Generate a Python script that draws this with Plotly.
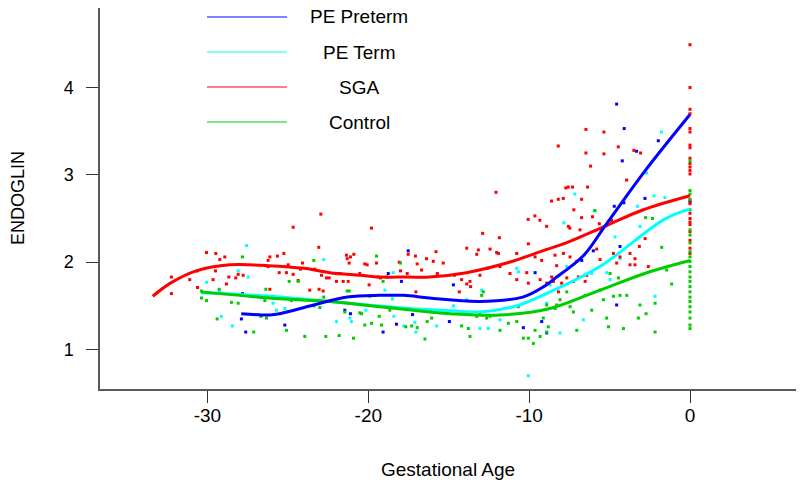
import plotly.graph_objects as go

# ---------------- data ----------------
sga_pts_x = [-24.67,-19.80,-30.06,-29.48,-29.23,-28.92,-32.24,-32.24,-31.10,-30.62,-29.50,-29.65,-28.67,-28.24,-28.09,-27.78,-28.82,-30.62,
             -26.23,-26.12,-25.65,-25.25,-26.23,-25.54,-25.09,-24.98,-24.67,-24.36,-24.22,-24.09,-23.33,-23.08,-22.91,-22.60,-22.43,-21.98,
             -21.77,-21.56,-21.25,-21.36,-21.31,-21.19,-21.11,-20.90,-20.53,-20.22,-20.07,-19.95,-19.49,-19.39,-19.24,-18.87,-18.08,-18.00,
             -17.52,-17.58,-17.07,-16.96,-16.69,-16.38,-17.04,-23.64,-23.06,-22.81,-26.12,-22.95,
             -12.89,-11.85,-10.05,-8.91,-7.56,-6.84,-13.88,-13.26,-13.16,-12.43,-12.02,-11.91,-10.77,-9.63,-9.22,-8.39,-7.87,-7.46,-7.04,-8.29,
             -15.96,-15.34,-15.79,-15.71,-14.65,-14.20,-13.88,-13.68,-14.34,-13.64,-13.06,-12.60,-11.81,-11.19,-10.77,-10.15,-10.05,-9.32,
             -8.91,-8.60,-8.49,-8.18,-7.98,-7.66,-7.25,-6.94,-6.52,-6.42,-5.59,-4.76,-4.35,-3.73,-3.42,-3.42,-3.15,-2.79,-2.59,-3.73,-4.56,-5.80,-12.06,
             -6.47,-5.35,-8.19,-6.47,-5.35,-4.46,-6.18,-3.49,-3.07,-3.94,-7.72,-7.57,-7.30,-6.37,-8.61,-8.19,-7.88,-6.74,-7.22,-10.06,-9.64,-9.33,
             -6.74,-6.06,-5.64,-4.88,-7.47,
             0,0,0,0,0,0,0,0,0,0,0,0,0,0,0,0,0,0,0,0,0,0,0]
sga_pts_y = [2.40,2.39,2.11,2.10,2.03,2.06,1.83,1.64,1.80,1.90,1.90,1.80,1.83,1.82,1.86,1.85,1.75,1.71,
             2.02,2.06,2.07,2.10,1.95,1.88,1.88,1.97,1.86,1.79,1.92,1.99,1.92,2.17,1.85,1.82,1.82,1.78,
             1.87,1.78,1.78,2.08,2.04,1.99,2.06,2.09,1.87,1.98,1.97,1.74,1.99,1.83,1.82,1.83,2.00,1.90,
             2.09,1.87,2.07,1.98,1.91,2.04,1.66,1.68,1.69,1.67,1.69,2.55,
             2.33,2.28,2.21,2.41,2.41,2.37,2.16,2.09,2.14,2.15,2.11,2.10,2.10,2.06,2.02,2.08,2.10,2.06,2.01,1.96,
             2.01,1.99,2.12,1.87,1.85,1.80,1.75,1.78,1.66,1.72,1.85,1.93,1.95,1.87,1.80,1.88,1.76,1.80,
             1.76,1.83,1.78,1.66,1.76,1.82,1.78,1.83,1.78,1.85,2.03,2.10,2.06,2.10,1.97,2.04,2.18,2.27,1.95,1.97,1.99,2.15,2.80,
             3.52,3.49,3.33,3.25,3.24,3.32,3.10,3.28,3.25,2.94,2.85,2.86,2.86,2.86,2.70,2.72,2.73,2.72,2.60,2.49,2.53,2.48,
             2.51,2.52,2.44,2.48,2.39,
             4.49,4.00,3.75,3.70,3.53,3.49,3.34,3.31,3.19,3.13,3.09,3.05,3.01,2.71,2.67,2.56,2.50,2.46,2.43,2.35,2.25,2.16,2.10]

ctrl_pts_x = [-30.37,-30.06,-30.37,-29.27,-29.40,-28.51,-28.09,-27.82,-27.12,-26.68,-26.33,-26.37,-26.43,-25.09,-24.92,-24.36,-24.78,-23.95,
              -23.39,-23.37,-23.01,-22.77,-22.64,-21.81,-21.31,-21.19,-21.46,-20.92,-20.53,-20.42,-20.22,-19.90,-19.80,-19.49,-19.32,-19.18,
              -19.08,-18.66,-18.00,-17.67,-17.31,-16.96,-16.84,-16.48,-16.34,
              -16.06,-14.20,-13.78,-13.68,-13.26,-13.06,-12.85,-12.95,-12.64,-12.43,-11.81,-11.29,-10.77,-10.67,-10.36,-10.05,-9.74,-9.63,
              -9.32,-9.12,-8.91,-8.81,-8.91,-8.39,-8.29,-8.08,-7.66,-7.46,-7.25,-7.04,-6.52,-6.11,-5.59,-5.38,-5.18,-5.07,-4.97,-4.76,-4.45,
              -4.35,-4.14,-3.93,-3.21,-3.11,-2.73,-2.17,-2.17,-1.76,-1.45,-1.14,
              -5.91,-2.76,-2.33,
              0,0,0,0,0,0,0,0,0,0,0,0,0,0,0,0,0,0,0,0,0,0,0,0]
ctrl_pts_y = [1.67,1.56,1.59,1.69,1.35,1.54,1.53,2.06,1.20,1.38,1.36,1.69,1.56,1.22,1.78,1.78,1.56,1.15,
              2.02,1.50,1.48,1.60,1.15,1.16,1.67,1.67,1.43,1.13,1.42,1.41,1.28,1.61,1.30,2.07,1.38,1.28,
              1.78,1.45,1.99,1.26,1.27,1.25,1.45,1.12,1.32,
              1.36,1.27,1.24,1.15,1.38,1.41,1.66,1.62,1.36,1.38,1.22,1.30,1.32,1.49,1.13,1.13,1.07,1.22,
              1.15,1.36,1.20,1.26,1.51,1.47,1.51,1.57,1.66,1.49,1.43,1.22,1.62,1.45,1.68,1.57,1.36,1.26,1.87,1.61,1.82,
              1.62,1.24,1.62,1.36,1.51,1.41,1.20,1.53,2.17,1.91,1.75,
              2.59,2.51,2.50,
              3.16,2.82,2.78,2.72,2.60,2.37,2.31,2.22,2.12,2.06,2.01,1.95,1.89,1.83,1.78,1.72,1.66,1.60,1.55,1.49,1.43,1.36,1.28,1.24]

term_pts_x = [-27.57,-27.47,-28.09,-30.06,-29.27,-29.13,-28.45,-25.92,-25.71,-25.19,-25.09,-22.77,-21.98,-21.15,-21.05,-20.15,-18.45,-18.97,
              -18.50,-18.41,-17.79,-17.04,-17.11,
              -15.75,-14.71,-13.88,-13.06,-12.95,-12.54,-11.81,-10.77,-10.67,-8.91,-8.70,-8.08,-7.66,-6.63,-6.11,-5.18,-4.97,-4.66,-4.35,
              -3.11,-2.17,-10.05,
              -1.77,-2.70,-7.16,-2.24,-1.56,-7.84,-3.26,-5.95]
term_pts_y = [2.19,1.83,1.90,1.77,1.67,1.38,1.27,1.53,1.45,1.47,1.43,2.03,1.32,1.36,1.32,1.45,1.88,1.68,
              1.58,1.38,1.27,1.20,1.31,
              1.27,1.50,1.57,1.24,1.68,1.24,1.34,1.93,1.89,1.53,1.74,1.19,1.95,1.34,1.87,1.88,1.80,2.29,2.04,
              2.41,1.61,0.70,
              3.49,3.02,2.78,2.76,2.74,2.45,2.64,2.59]

pre_pts_x = [-27.82,-27.89,-27.62,-25.19,-21.46,-21.11,-18.76,-17.94,-17.52,-17.25,-18.25,-19.08,
             -14.71,-10.36,-9.63,-9.22,-8.91,-6.73,-6.01,-4.56,-4.35,-14.96,
             -4.56,-4.09,-4.21,-3.32,-1.97,-2.80,-4.71,-4.11,0]
pre_pts_y = [1.64,1.35,1.20,1.28,1.45,1.41,1.87,1.78,2.13,1.40,1.29,1.20,
             1.74,1.25,1.88,1.32,1.19,2.02,2.13,1.51,2.18,1.32,
             3.81,3.53,3.16,3.27,3.39,2.73,2.64,2.68,2.69]

# smoothed curves
sga_fit_x = [-33.4,-32.3,-30.7,-28.6,-26.2,-24.0,-22.4,-20.5,-19.3,-17.5,-16.2,-13.9,-11.4,-9.0,-7.7,-5.3,-2.9,0]
sga_fit_y = [1.61,1.76,1.90,1.97,1.96,1.93,1.88,1.85,1.83,1.83,1.83,1.88,1.99,2.14,2.22,2.41,2.60,2.76]
pre_fit_x = [-27.9,-26.1,-25.5,-23.4,-21.3,-19.3,-17.8,-16.2,-13.1,-10.4,-9.0,-8.5,-6.6,-5.3,-2.9,0]
pre_fit_y = [1.41,1.395,1.41,1.51,1.60,1.62,1.62,1.59,1.55,1.60,1.73,1.80,2.08,2.41,3.02,3.69]
term_fit_x = [-30.4,-28.0,-25.5,-22.4,-20.0,-17.5,-15.3,-13.1,-10.8,-8.7,-5.6,-1.6,0]
term_fit_y = [1.65,1.63,1.60,1.55,1.51,1.47,1.45,1.43,1.50,1.66,1.95,2.49,2.61]
ctrl_fit_x = [-30.4,-28.0,-25.5,-22.4,-19.3,-16.2,-14.9,-11.8,-8.7,-5.6,-2.5,0]
ctrl_fit_y = [1.66,1.62,1.58,1.55,1.49,1.43,1.41,1.395,1.47,1.68,1.89,2.02]

series_names = ["PE Preterm", "PE Term", "SGA", "Control"]
series_colors = ["#0000FF", "#00FFFF", "#FF0000", "#00CD00"]

x_ticks = [-30, -20, -10, 0]
x_tick_labels = ["-30", "-20", "-10", "0"]
y_ticks = [1, 2, 3, 4]
y_tick_labels = ["1", "2", "3", "4"]

FONT = "Liberation Sans, Arial, sans-serif"

# ---------------- figure ----------------
fig = go.Figure()

pts = [(pre_pts_x, pre_pts_y), (term_pts_x, term_pts_y), (sga_pts_x, sga_pts_y), (ctrl_pts_x, ctrl_pts_y)]
for (px, py), col in zip(pts, series_colors):
    fig.add_trace(go.Scatter(x=px, y=py, mode="markers",
                             marker=dict(symbol="square", size=3, color=col, line=dict(width=0)),
                             showlegend=False, hoverinfo="skip"))

fits = {"PE Term": (term_fit_x, term_fit_y), "Control": (ctrl_fit_x, ctrl_fit_y),
        "SGA": (sga_fit_x, sga_fit_y), "PE Preterm": (pre_fit_x, pre_fit_y)}
for name in ["PE Term", "Control", "SGA", "PE Preterm"]:
    fx, fy = fits[name]
    col = series_colors[series_names.index(name)]
    fig.add_trace(go.Scatter(x=fx, y=fy, mode="lines", line=dict(color=col, width=3, shape="spline"),
                             showlegend=False, hoverinfo="skip"))

# manual legend (R-style)
L, T, W, H = 100, 8, 696, 381
def px2paper(xp, yp):
    return (xp - L) / W, (T + H - yp) / H

for i, (name, col) in enumerate(zip(series_names, series_colors)):
    yp = 17 + 35 * i
    x0, y0 = px2paper(207, yp)
    x1, _ = px2paper(287, yp)
    fig.add_shape(type="line", xref="paper", yref="paper", x0=x0, x1=x1, y0=y0, y1=y0,
                  line=dict(color=col, width=1))
    tx, _ = px2paper(359, yp)
    fig.add_annotation(xref="paper", yref="paper", x=tx, y=y0, text=name, showarrow=False,
                       xanchor="center", yanchor="middle",
                       font=dict(family=FONT, size=19, color="black"))

# axis titles
ax, ay = px2paper(18, 198)
fig.add_annotation(xref="paper", yref="paper", x=ax, y=ay, text="ENDOGLIN", textangle=-90,
                   showarrow=False, xanchor="center", yanchor="middle",
                   font=dict(family=FONT, size=18, color="black"))
gx, gy = px2paper(448, 469)
fig.add_annotation(xref="paper", yref="paper", x=gx, y=gy, text="Gestational Age",
                   showarrow=False, xanchor="center", yanchor="middle",
                   font=dict(family=FONT, size=19, color="black"))

axis_common = dict(showgrid=False, zeroline=False, showline=True, linecolor="#5a5a5a", linewidth=1.5,
                   ticks="outside", ticklen=12, tickcolor="#333333", tickwidth=1, mirror=False,
                   automargin=False)
fig.update_xaxes(range=[-36.68, 6.59], tickvals=x_ticks, ticktext=x_tick_labels, ticklabelstandoff=-4,
                 tickfont=dict(family=FONT, size=19, color="black"), **axis_common)
fig.update_yaxes(range=[0.548, 4.91], tickvals=y_ticks, ticktext=y_tick_labels, ticklabelstandoff=9,
                 tickfont=dict(family=FONT, size=18, color="black"), **axis_common)

fig.update_layout(template="none", width=800, height=491,
                  margin=dict(l=L, r=800 - L - W, t=T, b=491 - T - H, autoexpand=False),
                  plot_bgcolor="white", paper_bgcolor="white", showlegend=False)

fig.write_html("out.html", config={"displayModeBar": False},
               post_script="document.body.style.margin='0px';document.body.style.overflow='hidden';")
